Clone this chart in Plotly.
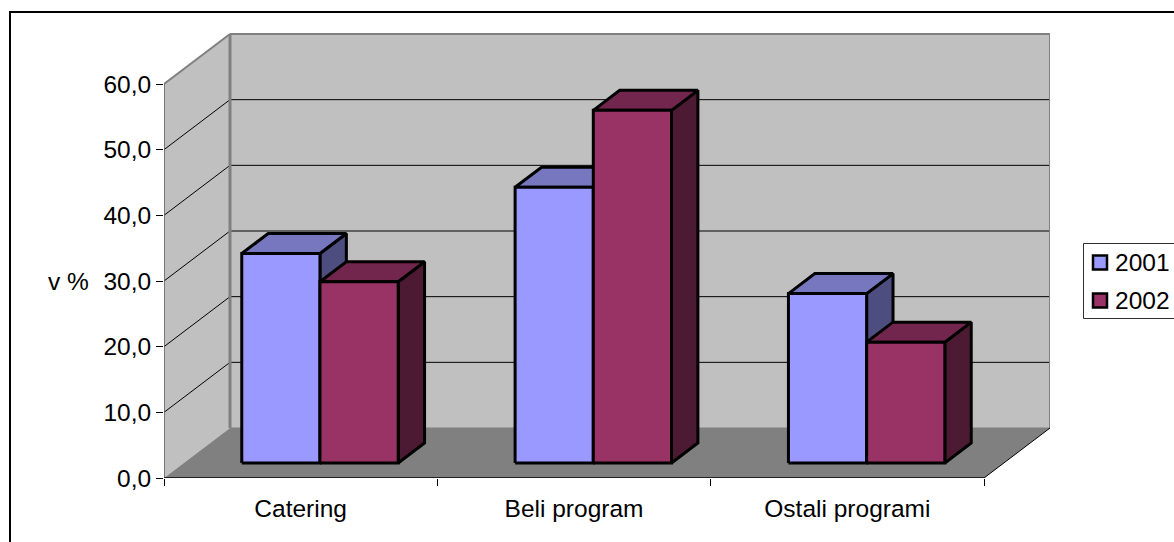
import plotly.graph_objects as go

# Share of each programme, in percent
categories = ["Catering", "Beli program", "Ostali programi"]
series_names = ["2001", "2002"]
values_2001 = [31.9, 42.0, 25.8]
values_2002 = [27.6, 53.7, 18.4]
y_ticks = [0, 10, 20, 30, 40, 50, 60]
y_tick_labels = ["0,0", "10,0", "20,0", "30,0", "40,0", "50,0", "60,0"]

FRONT = {"2001": "#9999FF", "2002": "#993366"}
TOP = {"2001": "#7777BF", "2002": "#73264D"}
SIDE = {"2001": "#4D4D80", "2002": "#4D1A33"}
WALL = "#C0C0C0"
FLOOR = "#808080"
WALL_EDGE = "#808080"

FONT = "Liberation Sans, Arial, sans-serif"
FONT_SIZE = 24.5
W, H = 1174, 542

# Plot area in the window; the front plane of the box starts at its lower left
LEFT, RIGHT, BOTTOM, TOP_PX = 164, 1050, 478, 33
CAT_PX = (984 - 164) / 3
UNIT_PX = (478 - 84) / 60

# Oblique projection: full depth of the box in data units
DX = 66 / CAT_PX
DY = 50 / UNIT_PX
BAR_NEAR, BAR_FAR = 0.30, 0.70
BAR_W = 78.2 / CAT_PX
BAR_SHIFT = -0.5 / CAT_PX


def paper_x(px):
    return (px - LEFT) / (RIGHT - LEFT)


def paper_y(px):
    return (BOTTOM - px) / (BOTTOM - TOP_PX)


def proj(x, y, d):
    return x + DX * d, y + DY * d


def poly(points, fill, line_color="black", line_width=0.0):
    xs = [p[0] for p in points] + [points[0][0]]
    ys = [p[1] for p in points] + [points[0][1]]
    return go.Scatter(
        x=xs, y=ys, mode="lines", fill="toself", fillcolor=fill,
        line=dict(color=line_color, width=line_width),
        showlegend=False, hoverinfo="skip",
    )


def seg(p, q, color="black", width=1.0):
    return go.Scatter(
        x=[p[0], q[0]], y=[p[1], q[1]], mode="lines",
        line=dict(color=color, width=width), showlegend=False, hoverinfo="skip",
    )


fig = go.Figure()
n = len(categories)
ymax = y_ticks[-1]

# Box: back wall, left wall, floor
fig.add_trace(poly([proj(0, 0, 1), proj(n, 0, 1), proj(n, ymax, 1), proj(0, ymax, 1)], WALL))
fig.add_trace(poly([proj(0, 0, 0), proj(0, 0, 1), proj(0, ymax, 1), proj(0, ymax, 0)], WALL))
fig.add_trace(poly([proj(0, 0, 0), proj(n, 0, 0), proj(n, 0, 1), proj(0, 0, 1)], FLOOR))

# Gridlines across both walls
for t in y_ticks[1:-1]:
    fig.add_trace(seg(proj(0, t, 0), proj(0, t, 1), "#000000", 1))
    fig.add_trace(seg(proj(0, t, 1), proj(n, t, 1), "#000000", 1))

# Wall outlines
fig.add_trace(seg(proj(0, ymax, 0), proj(0, ymax, 1), WALL_EDGE, 2))
fig.add_trace(seg(proj(0, ymax, 1), proj(n, ymax, 1), WALL_EDGE, 2))
fig.add_trace(seg(proj(n, ymax, 1), proj(n, 0, 1), WALL_EDGE, 2))
fig.add_trace(seg(proj(0, ymax, 1), proj(0, 0, 1), WALL_EDGE, 3))
fig.add_trace(seg(proj(0, 0, 1), proj(n, 0, 1), WALL_EDGE, 1))
fig.add_trace(seg(proj(n, 0, 1), proj(n, 0, 0), "#000000", 1))

# Front axis lines
fig.add_trace(seg((0, 0), (0, ymax), "#606060", 1.5))
fig.add_trace(seg((0, 0), (n, 0), "#000000", 1.5))


def add_bar(x0, value, key):
    x1 = x0 + BAR_W
    a = proj(x0, 0, BAR_NEAR)
    b = proj(x1, 0, BAR_NEAR)
    c = proj(x1, value, BAR_NEAR)
    d = proj(x0, value, BAR_NEAR)
    e = proj(x1, 0, BAR_FAR)
    f = proj(x1, value, BAR_FAR)
    g = proj(x0, value, BAR_FAR)
    fig.add_trace(poly([b, e, f, c], SIDE[key], line_width=3))
    fig.add_trace(poly([d, c, f, g], TOP[key], line_width=3))
    fig.add_trace(poly([a, b, c, d], FRONT[key], line_width=3))


# Bars are painted left to right so each one covers its neighbour's hidden faces
for i in range(n):
    centre = i + 0.5 + BAR_SHIFT
    add_bar(centre - BAR_W, values_2001[i], series_names[0])
    add_bar(centre, values_2002[i], series_names[1])

# Outer frame of the chart area; it runs past the right and bottom of the page
fig.add_shape(type="rect", xref="paper", yref="paper", x0=paper_x(10), x1=paper_x(1200),
              y0=paper_y(570), y1=paper_y(12), line=dict(color="black", width=2), layer="below")

fig.add_annotation(text="v %", xref="paper", yref="y", x=paper_x(91), y=30,
                   xanchor="right", yanchor="middle", showarrow=False,
                   font=dict(family=FONT, size=FONT_SIZE, color="black"))

# Legend box with one swatch and label per series
fig.add_shape(type="rect", xref="paper", yref="paper", x0=paper_x(1083.5), x1=paper_x(1200),
              y0=paper_y(318.5), y1=paper_y(243.5), line=dict(color="#303030", width=1),
              fillcolor="white", layer="above")
for name, cy in zip(series_names, [262.5, 300.5]):
    fig.add_shape(type="rect", xref="paper", yref="paper", x0=paper_x(1093), x1=paper_x(1107),
                  y0=paper_y(cy + 7), y1=paper_y(cy - 7), fillcolor=FRONT[name],
                  line=dict(color="black", width=2.5), layer="above")
    fig.add_annotation(text=name, xref="paper", yref="paper", x=paper_x(1113), y=paper_y(cy),
                       xanchor="left", yanchor="middle", showarrow=False,
                       font=dict(family=FONT, size=FONT_SIZE, color="black"))

fig.update_layout(
    width=W, height=H,
    margin=dict(l=LEFT, r=W - RIGHT, t=TOP_PX, b=H - BOTTOM, pad=0, autoexpand=False),
    paper_bgcolor="white", plot_bgcolor="rgba(0,0,0,0)",
    font=dict(family=FONT, size=FONT_SIZE, color="black"),
    showlegend=False,
    xaxis=dict(
        range=[0, (RIGHT - LEFT) / CAT_PX], showgrid=False, zeroline=False, showline=False,
        tickmode="array", tickvals=[i + 0.5 for i in range(n)], ticktext=categories,
        ticks="", ticklen=0, ticklabelstandoff=13, automargin=False,
        minor=dict(tickmode="array", tickvals=list(range(n + 1)), ticks="outside", ticklen=7,
                   tickcolor="black", tickwidth=1, showgrid=False),
    ),
    yaxis=dict(
        range=[0, (BOTTOM - TOP_PX) / UNIT_PX], showgrid=False, zeroline=False, showline=False,
        tickmode="array", tickvals=y_ticks, ticktext=y_tick_labels,
        ticks="outside", ticklen=7, tickcolor="black", tickwidth=1, automargin=False,
    ),
)

fig.write_html("out.html")
